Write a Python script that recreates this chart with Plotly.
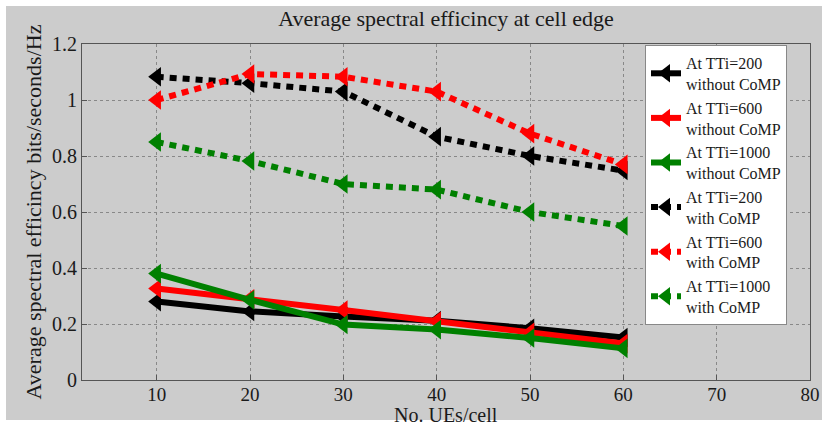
import plotly.graph_objects as go

ues = [10, 20, 30, 40, 50, 60]

tti200_no = [0.28, 0.245, 0.227, 0.212, 0.185, 0.152]
tti600_no = [0.327, 0.29, 0.25, 0.21, 0.17, 0.13]
tti1000_no = [0.38, 0.286, 0.198, 0.18, 0.15, 0.113]

tti200_comp = [1.083, 1.06, 1.03, 0.869, 0.80, 0.748]
tti600_comp = [1.0, 1.093, 1.083, 1.03, 0.88, 0.77]
tti1000_comp = [0.85, 0.782, 0.70, 0.68, 0.60, 0.55]

names = [
    "At TTi=200<br>without CoMP",
    "At TTi=600<br>without CoMP",
    "At TTi=1000<br>without CoMP",
    "At TTi=200<br>with CoMP",
    "At TTi=600<br>with CoMP",
    "At TTi=1000<br>with CoMP",
]
series = [tti200_no, tti600_no, tti1000_no, tti200_comp, tti600_comp, tti1000_comp]
colors = ["#000000", "#ff0000", "#008000", "#000000", "#ff0000", "#008000"]
dashes = ["solid", "solid", "solid", "7px,6px", "7px,6px", "7px,6px"]

FONT = "Liberation Serif"
TXT = "#1a1a1a"

fig = go.Figure()
for nm, ys, c, d in zip(names, series, colors, dashes):
    fig.add_trace(go.Scatter(
        x=ues, y=ys, name=nm, mode="lines+markers",
        line=dict(color=c, width=6, dash=d),
        marker=dict(symbol="triangle-left", size=17, color=c),
    ))

W, H = 822, 427
L, R, T, B = 82, 12, 44, 47
pw, ph = W - L - R, H - T - B

def px_to_paper_x(px):
    return (px - L) / pw

def px_to_paper_y(py):
    return (H - B - py) / ph

fig.add_shape(type="rect", xref="paper", yref="paper", layer="below",
              x0=px_to_paper_x(6), x1=px_to_paper_x(822),
              y0=px_to_paper_y(420), y1=px_to_paper_y(6),
              fillcolor="#cccccc", line=dict(width=0))

axis_common = dict(
    showline=True, linecolor="#555555", linewidth=1, mirror=True,
    showgrid=True, gridcolor="#888888", griddash="dot", gridwidth=1,
    ticks="inside", ticklen=5, tickcolor="#555555",
    zeroline=False, automargin=False,
)

# x-axis title placed as an annotation for precise vertical position
fig.add_annotation(text="No. UEs/cell", xref="paper", yref="paper",
                   x=px_to_paper_x(446), y=px_to_paper_y(415),
                   xanchor="center", yanchor="middle", showarrow=False,
                   borderpad=0,
                   font=dict(family=FONT, size=20, color=TXT))

fig.update_layout(
    width=W, height=H,
    margin=dict(l=L, r=R, t=T, b=B),
    paper_bgcolor="#ffffff", plot_bgcolor="#ffffff",
    title=dict(text="Average spectral efficincy at cell edge",
               font=dict(family=FONT, size=22, color=TXT),
               x=446 / W, xanchor="center", y=1 - 18 / H, yanchor="middle"),
    xaxis=dict(range=[2, 80], tickvals=[10, 20, 30, 40, 50, 60, 70, 80],
               tickfont=dict(family=FONT, size=19, color=TXT),
               ticklabelstandoff=-3,
               **axis_common),
    yaxis=dict(range=[0, 1.2], tickvals=[0, 0.2, 0.4, 0.6, 0.8, 1.0, 1.2],
               ticktext=["0", "0.2", "0.4", "0.6", "0.8", "1", "1.2"],
               tickfont=dict(family=FONT, size=20, color=TXT),
               title=dict(text="Average spectral efficincy bits/seconds/Hz", font=dict(family=FONT, size=22, color=TXT), standoff=4),
               **axis_common),
    legend=dict(x=px_to_paper_x(645), y=px_to_paper_y(45), xanchor="left", yanchor="top",
                bgcolor="#ffffff", bordercolor="#888888", borderwidth=1,
                font=dict(family=FONT, size=16, color=TXT),
                itemwidth=30, tracegroupgap=0),
    showlegend=True,
)

fig.write_html("out.html")
